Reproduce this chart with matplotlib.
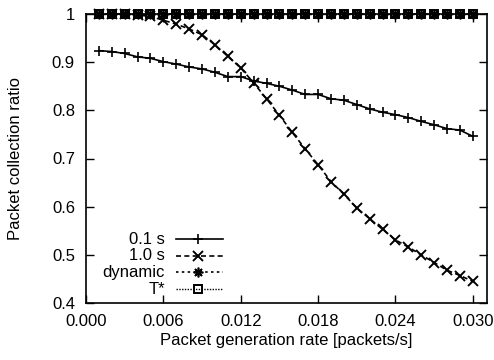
import matplotlib
matplotlib.use("Agg")
import matplotlib.pyplot as plt
from matplotlib.lines import Line2D

plt.rcParams['font.family'] = ['Liberation Sans', 'DejaVu Sans']

rate = [0.001, 0.002, 0.003, 0.004, 0.005, 0.006, 0.007, 0.008, 0.009, 0.010,
        0.011, 0.012, 0.013, 0.014, 0.015, 0.016, 0.017, 0.018, 0.019, 0.020,
        0.021, 0.022, 0.023, 0.024, 0.025, 0.026, 0.027, 0.028, 0.029, 0.030]

s01 = [0.924, 0.922, 0.918, 0.911, 0.908, 0.901, 0.896, 0.890, 0.886, 0.879,
       0.870, 0.870, 0.861, 0.856, 0.850, 0.842, 0.833, 0.833, 0.824, 0.821,
       0.812, 0.803, 0.796, 0.791, 0.785, 0.777, 0.770, 0.762, 0.759, 0.746]

s10 = [1.000, 1.000, 1.000, 0.998, 0.995, 0.987, 0.979, 0.969, 0.957, 0.936,
       0.912, 0.888, 0.857, 0.824, 0.790, 0.754, 0.720, 0.687, 0.652, 0.626,
       0.597, 0.575, 0.553, 0.531, 0.516, 0.500, 0.484, 0.468, 0.457, 0.445]

dynamic = [1.0] * 30
tstar = [1.0] * 30

labels = ['0.1 s', '1.0 s', 'dynamic', 'T*']
xticks = [0.000, 0.006, 0.012, 0.018, 0.024, 0.030]
xticklabels = ['0.000', '0.006', '0.012', '0.018', '0.024', '0.030']
yticks = [0.4, 0.5, 0.6, 0.7, 0.8, 0.9, 1.0]
yticklabels = ['0.4', '0.5', '0.6', '0.7', '0.8', '0.9', '1']

FS = 12
W, H = 494, 360
L, R, T, B = 86, 487, 14, 303

fig = plt.figure(figsize=(W / 100, H / 100), dpi=100)
ax = fig.add_axes([L / W, 1 - B / H, (R - L) / W, (B - T) / H])

styles = [
    dict(color='black', lw=1.2, ls='-', marker='+', ms=7.5, mew=1.2),
    dict(color='black', lw=1.2, ls=(0, (3, 2)), marker='x', ms=6.5, mew=1.4),
    dict(color='black', lw=1.2, ls=(0, (1.5, 2)), marker=(8, 2, 0), ms=7, mew=1.2),
    dict(color='black', lw=1.0, ls=(0, (1, 1)), marker='s', ms=6, mew=1.4, mfc='none'),
]
series = [s01, s10, dynamic, tstar]
for ys, st, lab in zip(series, styles, labels):
    ax.plot(rate, ys, label=lab, clip_on=False, **st)

ax.set_xlim(0.0, 0.0311)
ax.set_ylim(0.4, 1.0)
ax.set_xticks(xticks)
ax.set_xticklabels(xticklabels)
ax.set_yticks(yticks)
ax.set_yticklabels(yticklabels)
ax.tick_params(direction='in', length=6, width=1, top=True, right=True, labelsize=FS, pad=8)
for sp in ax.spines.values():
    sp.set_linewidth(1.2)

ax.set_xlabel('Packet generation rate [packets/s]', fontsize=FS, va='center')
ax.set_ylabel('Packet collection ratio', fontsize=FS, va='center', ha='center')
ax.xaxis.set_label_coords(0.5, (B - 341) / (B - T))
ax.yaxis.set_label_coords((16 - L) / (R - L), 0.5)

# gnuplot-style key: right-aligned text, then a line sample with the marker
def ax_x(px):
    return (px - L) / (R - L)

def ax_y(py):
    return (B - py) / (B - T)

rows = [239, 256, 272, 289]
for ys, st, lab, py in zip(series, styles, labels, rows):
    ax.text(ax_x(165), ax_y(py), lab, transform=ax.transAxes, ha='right', va='center',
            fontsize=FS)
    ln_style = {k: v for k, v in st.items() if k not in ('marker', 'ms', 'mew', 'mfc')}
    ax.add_line(Line2D([ax_x(176), ax_x(223)], [ax_y(py), ax_y(py)],
                       transform=ax.transAxes, **ln_style))
    mk_style = {k: v for k, v in st.items() if k not in ('ls', 'lw')}
    ax.add_line(Line2D([ax_x(198)], [ax_y(py)], transform=ax.transAxes, ls='none', **mk_style))

fig.savefig('out.png', dpi=100)
